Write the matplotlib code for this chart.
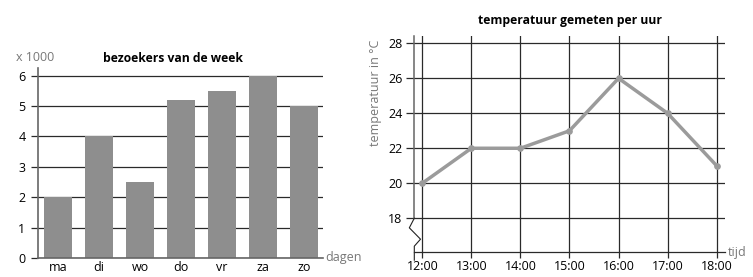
import numpy as np
import matplotlib.pyplot as plt

plt.rcParams['font.family'] = 'Open Sans'
plt.rcParams['font.size'] = 9

dagen = ['ma', 'di', 'wo', 'do', 'vr', 'za', 'zo']
bezoekers = [2, 4, 2.5, 5.2, 5.5, 6, 5]

uren = ['12:00', '13:00', '14:00', '15:00', '16:00', '17:00', '18:00']
temperatuur = [20, 22, 22, 23, 26, 24, 21]

W, H = 753, 277
fig = plt.figure(figsize=(W / 100, H / 100), dpi=100)


def px_axes(left, top, right, bottom):
    # place an axes using pixel edges of the figure
    return fig.add_axes([left / W, 1 - bottom / H, (right - left) / W, (bottom - top) / H])


grey_text = '#777777'
grid_col = '#2a2a2a'

# --- bar chart: bezoekers van de week
ax1 = px_axes(38, 68, 323, 258)
x = np.arange(len(dagen))
ax1.bar(x, bezoekers, width=0.68, color='#8e8e8e', zorder=2)
ax1.set_xlim(-0.49, 6.46)
ax1.set_ylim(0, 6.25)
ax1.set_yticks(range(0, 7))
ax1.set_xticks(x)
ax1.set_xticklabels(dagen)
ax1.set_axisbelow(True)
ax1.yaxis.grid(True, color=grid_col, linewidth=0.9)
ax1.tick_params(axis='y', length=5, width=0.9, color=grid_col, pad=4, labelsize=9)
ax1.tick_params(axis='x', length=0, pad=2, labelsize=9)
for s in ['top', 'right']:
    ax1.spines[s].set_visible(False)
ax1.spines['left'].set_color('#666666')
ax1.spines['left'].set_linewidth(1.2)
ax1.spines['bottom'].set_color('#666666')
ax1.spines['bottom'].set_linewidth(1.2)
ax1.text(0.475, 1.052, 'bezoekers van de week', transform=ax1.transAxes, fontweight='bold',
         fontsize=8.7, ha='center', va='center')
ax1.text(-0.01, 1.055, 'x 1000', transform=ax1.transAxes, color=grey_text, fontsize=9,
         ha='center', va='center')
ax1.text(1.008, 0.0, 'dagen', transform=ax1.transAxes, color=grey_text, fontsize=9,
         ha='left', va='center')

# --- line chart: temperatuur gemeten per uur
ax2 = px_axes(414.3, 36, 725, 252.3)
xt = np.arange(len(uren))
ax2.plot(xt, temperatuur, color='#9b9b9b', linewidth=2.5, marker='o', markersize=3.8,
         zorder=3, clip_on=False)
ax2.set_xlim(-0.163, 6.17)
ax2.set_ylim(16.05, 28.42)
ax2.set_xticks(xt)
ax2.set_xticklabels(uren)
ax2.set_yticks(range(18, 29, 2))
ax2.grid(True, color=grid_col, linewidth=0.9)
ax2.tick_params(axis='y', length=5.5, width=0.9, color=grid_col, pad=3, labelsize=9)
ax2.tick_params(axis='x', length=4, width=0.9, color=grid_col, pad=1.5, labelsize=9)
for s in ['top', 'right', 'left']:
    ax2.spines[s].set_visible(False)
ax2.spines['bottom'].set_color(grid_col)
ax2.spines['bottom'].set_linewidth(0.9)

# y axis with a break below 18
trans = ax2.get_yaxis_transform()
ax2.plot([0, 0], [28.42, 18.0], color='#666666', linewidth=1.1, transform=trans, clip_on=False)
ax2.plot([0, -0.016, 0.02, 0, 0], [18.0, 17.45, 16.8, 16.4, 15.6], color='#222222',
         linewidth=0.8, transform=trans, clip_on=False)

ax2.text(0.5, 1.07, 'temperatuur gemeten per uur', transform=ax2.transAxes,
         fontweight='bold', fontsize=8.7, ha='center', va='center')
ax2.set_ylabel('temperatuur in °C', color=grey_text, fontsize=9, loc='top')
ax2.yaxis.set_label_coords(-0.105, 0.985)
ax2.text(1.008, 0.0, 'tijd', transform=ax2.transAxes, color=grey_text, fontsize=9,
         ha='left', va='center')

fig.savefig('out.png', dpi=100)
